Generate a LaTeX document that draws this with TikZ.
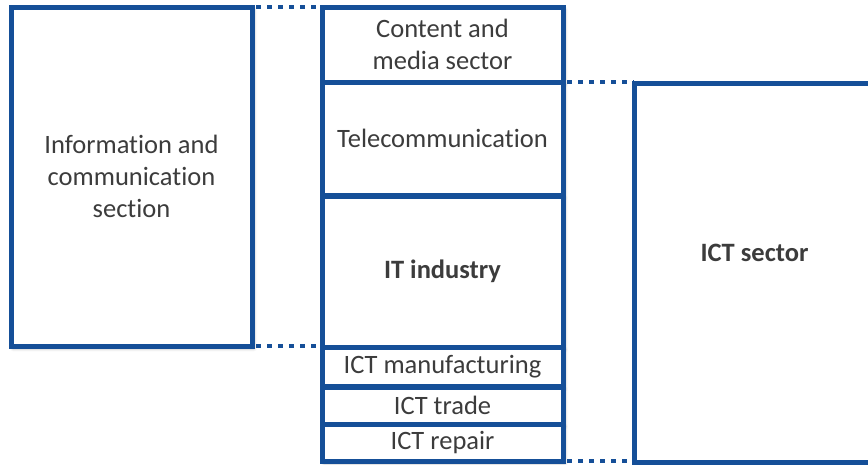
\documentclass[tikz,border=0pt]{standalone}
\usepackage{fontspec}
\setmainfont{Carlito}[Ligatures=CommonOff]
\usetikzlibrary{shadows.blur}
\definecolor{frameblue}{RGB}{21,79,152}
\definecolor{textgray}{RGB}{60,60,60}
\begin{document}
\begin{tikzpicture}[x=1pt,y=-1pt,
  sectorbox/.style={draw=frameblue, line width=5pt, fill=white, rectangle,
    outer sep=0pt, inner sep=0pt, minimum width=241pt,
    blur shadow={shadow xshift=2pt, shadow yshift=-2.5pt, shadow blur steps=6,
      shadow blur radius=3pt, shadow opacity=35}},
  boxtext/.style={text=textgray, font=\fontsize{26.5}{32}\selectfont, align=center},
  boldtext/.style={boxtext, font=\fontsize{26.5}{32}\selectfont\bfseries},
  dotlink/.style={draw=frameblue, line width=4.5pt, dash pattern=on 4.5pt off 6.5pt,
    dash phase=-4pt}
]
\useasboundingbox (0,0) rectangle (868,464);
\clip (0,0) rectangle (868,464);

% left-hand section
\node[sectorbox, minimum height=339pt, boxtext] (ics) at (131.5,176.5)
  {Information and\\communication\\section};

% stacked column of sub-sectors
\node[sectorbox, minimum height=75pt, boxtext] (content) at (442.5,44.5)
  {Content and\\media sector};
\node[sectorbox, minimum height=113pt, boxtext] (telecom) at (442.5,138.5)
  {Telecommunication};
\node[sectorbox, minimum height=151pt, boldtext] (it) at (442.5,271.5)
  {IT industry};
\node[sectorbox, minimum height=39pt, boxtext] (manuf) at (442.5,366.5)
  {ICT manufacturing};
\node[sectorbox, minimum height=37pt, boxtext] (trade) at (442.5,405.5)
  {ICT trade};
\node[sectorbox, minimum height=37pt, boxtext] (repair) at (442.5,442.5)
  {ICT repair};

% right-hand sector
\node[sectorbox, minimum height=379pt] (ict) at (754.5,272.5) {};
\node[boldtext] (ictlabel) at (754.5,253) {ICT sector};

% dotted connectors between the groups
\draw[dotlink] (ics.north east) -- (content.north west);
\draw[dotlink] (ics.south east) -- (ics.south east -| it.west);
\draw[dotlink] (content.south east) -- (content.south east -| ict.west);
\draw[dotlink] (repair.south east) -- (repair.south east -| ict.west);
\end{tikzpicture}
\end{document}
